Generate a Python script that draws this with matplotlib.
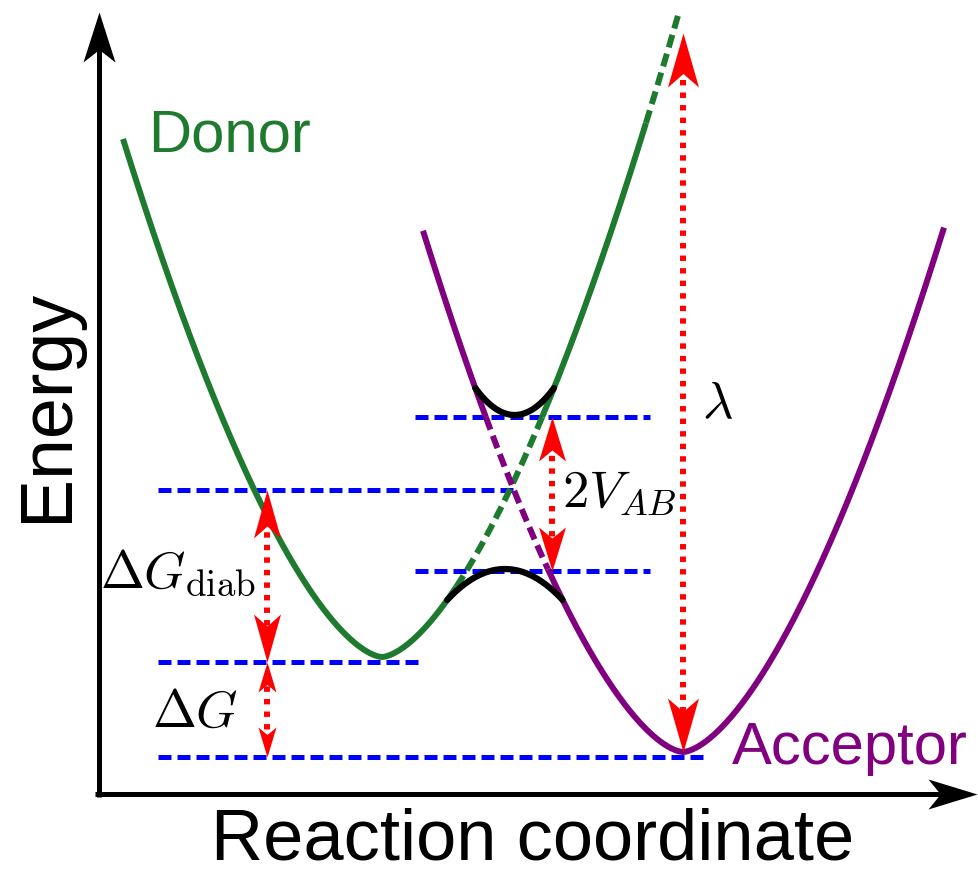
import numpy as np
import matplotlib.pyplot as plt
from matplotlib.path import Path

plt.rcParams['mathtext.fontset'] = 'cm'

# diabatic free energy wells: E = g0 + k*|q - q0|**p
donor_q0, donor_g0 = 2.83, 1.38
acceptor_q0, acceptor_g0 = 5.84, 0.43
well_k = 1.13
well_p = 1.6
donor_span = [0.24, 5.79]
acceptor_span = [3.24, 8.45]

# energy windows drawn dashed (donor: right branch, acceptor: left branch)
donor_dash_E = [[2.08, 3.78], [6.72, 9.0]]
acceptor_dash_E = [[2.26, 3.78]]

# avoided crossing (adiabatic arcs)
cross_E = 3.03
coupling_V = 0.77
arc_rise = [0.27, 0.31]   # upper arc rise, lower arc drop at its ends

# blue dashed reference levels
level_E = [0.38, 1.33, 3.05, 3.78, 2.24]
level_q_start = [0.59, 0.59, 0.59, 3.16, 3.16]
level_q_end = [6.06, 3.19, 4.16, 5.51, 5.51]

# red double arrows
arrow_q = [1.68, 1.68, 4.53, 5.84]
arrow_E_low = [0.38, 1.33, 2.24, 0.43]
arrow_E_high = [1.33, 3.05, 3.78, 7.62]
arrow_labels = [r'$\Delta G$', r'$\Delta G_{\rm diab}$', r'$2V_{AB}$', r'$\lambda$']
label_q = [1.39, 1.57, 4.63, 6.03]
label_E = [0.68, 2.07, 2.88, 3.77]

green = '#1e7a2e'
purple = '#800080'


def energy(q, q0, g0):
    return g0 + well_k * np.abs(q - q0) ** well_p


def q_at(E, q0, g0, side):
    return q0 + side * ((E - g0) / well_k) ** (1 / well_p)


def head(length_px, width_px, direction):
    # stealth arrow head, tip at the origin; size given in pixels
    L, W = 1.0, width_px / length_px
    v = np.array([[0, 0], [W / 2, -L], [0, -0.75 * L], [-W / 2, -L], [0, 0]])
    if direction == 'down':
        v[:, 1] *= -1
    elif direction == 'right':
        v = np.column_stack([v[:, 1], v[:, 0]])
    codes = [Path.MOVETO, Path.LINETO, Path.LINETO, Path.LINETO, Path.CLOSEPOLY]
    return Path(v, codes), 2 * length_px * 0.72


def draw_well(ax, q0, g0, span, windows, side, color):
    q = np.linspace(span[0], span[1], 3000)
    E = energy(q, q0, g0)
    dashed = np.zeros(q.size, bool)
    for lo, hi in windows:
        dashed |= ((q - q0) * side > 0) & (E >= lo) & (E <= hi)
    cuts = np.flatnonzero(np.diff(dashed.astype(int))) + 1
    starts = np.r_[0, cuts]
    ends = np.r_[cuts, q.size]
    for s, e in zip(starts, ends):
        e2 = min(e + 1, q.size)
        ls = (0, (2.2, 1.1)) if dashed[s] else '-'
        ax.plot(q[s:e2], E[s:e2], color=color, lw=4.3, ls=ls,
                solid_capstyle='butt', zorder=3)


fig = plt.figure(figsize=(9.79, 8.75), dpi=100)
ax = fig.add_axes([0, 0, 1, 1])
ax.set_xlim(-0.99, 8.80)
ax.set_ylim(-0.80, 7.95)
ax.axis('off')

# axes with arrows
ax.plot([0, 0], [-0.02, 7.5], color='black', lw=3.6, solid_capstyle='butt')
ax.plot([-0.04, 8.45], [0.01, 0.01], color='black', lw=3.6, solid_capstyle='butt')
m, ms = head(50, 32, 'up')
ax.plot(0, 7.83, marker=m, ms=ms, color='black', mew=0, ls='none')
m, ms = head(49, 30, 'right')
ax.plot(8.78, 0.01, marker=m, ms=ms, color='black', mew=0, ls='none')

# reference levels
for E, q0, q1 in zip(level_E, level_q_start, level_q_end):
    ax.plot([q0, q1], [E, E], color='blue', lw=3.6, ls=(0, (2.6, 1.2)), zorder=2)

# diabatic curves
draw_well(ax, donor_q0, donor_g0, donor_span, donor_dash_E, 1, green)
draw_well(ax, acceptor_q0, acceptor_g0, acceptor_span, acceptor_dash_E, -1, purple)

# adiabatic arcs near the crossing
E_top = cross_E + coupling_V + arc_rise[0]
qa = q_at(E_top, acceptor_q0, acceptor_g0, -1)
qb = q_at(E_top, donor_q0, donor_g0, 1)
qq = np.linspace(qa, qb, 200)
mid, half = (qa + qb) / 2, (qb - qa) / 2
ax.plot(qq, cross_E + coupling_V + arc_rise[0] * ((qq - mid) / half) ** 2,
        color='black', lw=4.5, solid_capstyle='round', zorder=4)
E_bot = cross_E - coupling_V - arc_rise[1]
qa = q_at(E_bot, donor_q0, donor_g0, 1)
qb = q_at(E_bot, acceptor_q0, acceptor_g0, -1)
qq = np.linspace(qa, qb, 200)
mid, half = (qa + qb) / 2, (qb - qa) / 2
ax.plot(qq, cross_E - coupling_V - arc_rise[1] * ((qq - mid) / half) ** 2,
        color='black', lw=4.5, solid_capstyle='round', zorder=4)

# double arrows
head_px = [(30, 18), (48, 27), (44, 27), (54, 31)]
for q, lo, hi, (L, W) in zip(arrow_q, arrow_E_low, arrow_E_high, head_px):
    ax.plot([q, q], [lo + 0.5 * L / 100, hi - 0.5 * L / 100], color='red',
            lw=4.3, ls=(0, (0.9, 1.2)), zorder=5)
    m, ms = head(L, W, 'up')
    ax.plot(q, hi, marker=m, ms=ms, color='red', mew=0, ls='none', zorder=6)
    m, ms = head(L, W, 'down')
    ax.plot(q, lo, marker=m, ms=ms, color='red', mew=0, ls='none', zorder=6)

for txt, q, E, ha in zip(arrow_labels, label_q, label_E,
                         ['right', 'right', 'left', 'left']):
    ax.text(q, E, txt, fontsize=38, ha=ha, va='baseline', zorder=7)

sans = 'Liberation Sans'
ax.text(0.49, 6.43, 'Donor', color=green, fontsize=43, family=sans, va='baseline')
ax.text(6.33, 0.31, 'Acceptor', color=purple, fontsize=43, family=sans, va='baseline')
ax.text(4.34, -0.64, 'Reaction coordinate', fontsize=52, family=sans,
        ha='center', va='baseline')
ax.text(-0.86, 3.90, 'Energy', fontsize=53, family=sans, rotation=90,
        ha='left', va='center')

fig.savefig('out.png', dpi=100)
